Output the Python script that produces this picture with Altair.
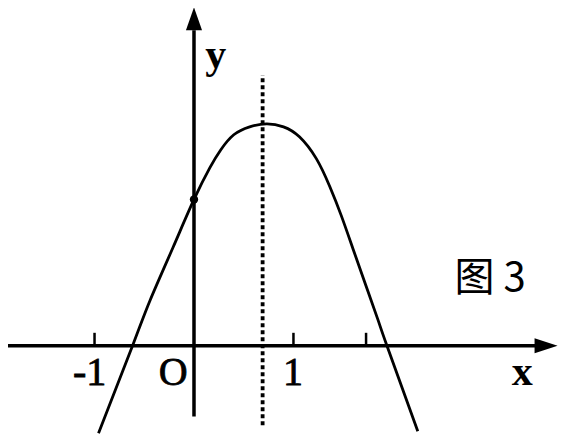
import altair as alt
import pandas as pd

# points (data units)
curve_x = [-0.96, -0.61, -0.44, -0.21, 0.0, 0.16, 0.27, 0.40, 0.56, 0.73, 0.90,
           1.06, 1.23, 1.365, 1.48, 1.60, 1.73, 1.85, 1.94, 2.25]
curve_y = [-0.88, 0.02, 0.46, 0.99, 1.47, 1.79, 1.97, 2.12, 2.20, 2.23, 2.20,
           2.10, 1.88, 1.60, 1.31, 0.97, 0.60, 0.26, 0.0, -0.86]

intercept_y = 1.47
axis_of_symmetry = 0.69
symmetry_span = [-0.80, 2.72]

tick_x = [-1, 1, 1.73]
tick_len = 0.13

x_axis_span = [-1.87, 3.55]
y_axis_span = [-0.71, 3.17]
x_arrow_at = 3.54
y_arrow_at = 3.285

tick_labels = ["-1", "O", "1"]
tick_label_x = [-1.05, -0.21, 0.995]
tick_label_y = -0.395

X_DOM = [-1.87, 3.70]
Y_DOM = [-0.897, 3.394]

SERIF = "Liberation Serif"
BLACK = "#000000"

xs = alt.Scale(domain=X_DOM, nice=False, zero=False)
ys = alt.Scale(domain=Y_DOM, nice=False, zero=False)


def X(field):
    return alt.X(field, type="quantitative", scale=xs, axis=None)


def Y(field):
    return alt.Y(field, type="quantitative", scale=ys, axis=None)


curve_df = pd.DataFrame({"x": curve_x, "y": curve_y})
curve = alt.Chart(curve_df).mark_line(
    color=BLACK, strokeWidth=2.8, interpolate="natural", clip=False
).encode(x=X("x"), y=Y("y"), order="x:Q")

axes_df = pd.DataFrame({
    "x": [x_axis_span[0], 0],
    "x2": [x_axis_span[1], 0],
    "y": [0, y_axis_span[0]],
    "y2": [0, y_axis_span[1]],
})
axes = alt.Chart(axes_df).mark_rule(color=BLACK, strokeWidth=3.5, clip=False).encode(
    x=X("x"), x2="x2", y=Y("y"), y2="y2"
)

x_arrow = alt.Chart(pd.DataFrame({"x": [x_arrow_at], "y": [0]})).mark_point(
    shape="M1,0 L-1,-0.65 L-1,0.65 Z", filled=True, size=529, color=BLACK,
    opacity=1, clip=False
).encode(x=X("x"), y=Y("y"))

y_arrow = alt.Chart(pd.DataFrame({"x": [0], "y": [y_arrow_at]})).mark_point(
    shape="M0,-1 L0.7,1 L-0.7,1 Z", filled=True, size=529, color=BLACK,
    opacity=1, clip=False
).encode(x=X("x"), y=Y("y"))

ticks_df = pd.DataFrame({"x": tick_x, "y": [0] * len(tick_x), "y2": [tick_len] * len(tick_x)})
ticks = alt.Chart(ticks_df).mark_rule(color=BLACK, strokeWidth=2.5).encode(
    x=X("x"), y=Y("y"), y2="y2"
)

sym_df = pd.DataFrame({"x": [axis_of_symmetry], "y": [symmetry_span[0]], "y2": [symmetry_span[1]]})
sym = alt.Chart(sym_df).mark_rule(color=BLACK, strokeWidth=3.8, strokeDash=[4, 3]).encode(
    x=X("x"), y=Y("y"), y2="y2"
)

dot = alt.Chart(pd.DataFrame({"x": [0], "y": [intercept_y]})).mark_point(
    shape="circle", filled=True, size=70, color=BLACK, opacity=1
).encode(x=X("x"), y=Y("y"))

labels_df = pd.DataFrame({"x": tick_label_x, "y": [tick_label_y] * 3, "t": tick_labels})
labels = alt.Chart(labels_df).mark_text(
    font=SERIF, fontSize=40, color=BLACK, baseline="alphabetic", align="center",
    stroke=BLACK, strokeWidth=0.8
).encode(x=X("x"), y=Y("y"), text="t:N")

name_df = pd.DataFrame({"x": [3.30, 0.22], "y": [-0.395, 2.79], "t": ["x", "y"]})
names = alt.Chart(name_df).mark_text(
    font=SERIF, fontSize=42, fontWeight="bold", color=BLACK, baseline="alphabetic", align="center"
).encode(x=X("x"), y=Y("y"), text="t:N")

fig_df = pd.DataFrame({"x": [2.62], "y": [0.55], "t": ["图 3"]})
fig = alt.Chart(fig_df).mark_text(
    font="Noto Sans CJK SC", fontSize=40, color=BLACK, baseline="alphabetic", align="left"
).encode(x=X("x"), y=Y("y"), text="t:N")

chart = (
    axes + sym + ticks + curve + dot + x_arrow + y_arrow + labels + names + fig
).properties(
    width=554, height=427, padding=0, autosize="none", background="white"
).configure_view(stroke=None)

chart.save("out.html", embed_options={"renderer": "svg", "actions": False})
